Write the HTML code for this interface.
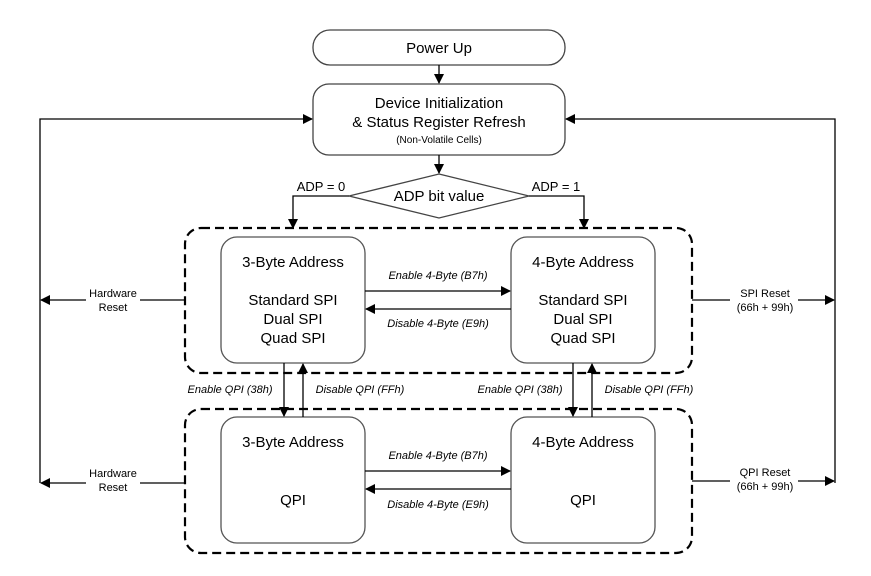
<!DOCTYPE html>
<html><head><meta charset="utf-8"><style>
html,body{margin:0;padding:0;background:#fff;}
svg{display:block;font-family:"Liberation Sans",sans-serif;}
.m{font-size:15px;fill:#000;text-anchor:middle}
.s{font-size:11px;fill:#000;text-anchor:middle;font-style:italic}
.r{font-size:11px;fill:#000;text-anchor:middle}
</style></head><body>
<svg width="871" height="576" viewBox="0 0 871 576" xmlns="http://www.w3.org/2000/svg">
<defs>
<marker id="a" markerWidth="10" markerHeight="10" refX="9" refY="5" orient="auto" markerUnits="userSpaceOnUse">
<path d="M0,0 L10,5 L0,10 z" fill="#000"/></marker>
</defs>
<g fill="none" stroke="#000" stroke-width="1.3">
<!-- Power up -->
<rect x="313" y="30" width="252" height="35" rx="17" stroke="#444"/>
<rect x="313" y="84" width="252" height="71" rx="16" stroke="#444"/>
<line x1="439" y1="65" x2="439" y2="83" marker-end="url(#a)"/>
<line x1="439" y1="155" x2="439" y2="173" marker-end="url(#a)"/>
<polygon points="439,174 529,196 439,218 349,196" stroke="#444"/>
<polyline points="349,196 293,196 293,228" marker-end="url(#a)"/>
<polyline points="529,196 584,196 584,228" marker-end="url(#a)"/>
<!-- dashed groups -->
<rect x="185" y="228" width="507" height="145" rx="16" stroke-width="2.2" stroke-dasharray="9,5"/>
<rect x="185" y="409" width="507" height="144" rx="16" stroke-width="2.2" stroke-dasharray="9,5"/>
<!-- inner boxes -->
<rect x="221" y="237" width="144" height="126" rx="16" stroke="#555"/>
<rect x="511" y="237" width="144" height="126" rx="16" stroke="#555"/>
<rect x="221" y="417" width="144" height="126" rx="16" stroke="#555"/>
<rect x="511" y="417" width="144" height="126" rx="16" stroke="#555"/>
<!-- horizontals -->
<line x1="365" y1="291" x2="510" y2="291" marker-end="url(#a)"/>
<line x1="511" y1="309" x2="366" y2="309" marker-end="url(#a)"/>
<line x1="365" y1="471" x2="510" y2="471" marker-end="url(#a)"/>
<line x1="511" y1="489" x2="366" y2="489" marker-end="url(#a)"/>
<!-- verticals -->
<line x1="284" y1="363" x2="284" y2="416" marker-end="url(#a)"/>
<line x1="303" y1="417" x2="303" y2="364" marker-end="url(#a)"/>
<line x1="573" y1="363" x2="573" y2="416" marker-end="url(#a)"/>
<line x1="592" y1="417" x2="592" y2="364" marker-end="url(#a)"/>
<!-- left loop -->
<polyline points="40,483 40,119 312,119" marker-end="url(#a)"/>
<line x1="140" y1="300" x2="41" y2="300" marker-end="url(#a)"/>
<line x1="185" y1="300" x2="140" y2="300"/>
<line x1="185" y1="483" x2="41" y2="483" marker-end="url(#a)"/>
<!-- right loop -->
<polyline points="835,483 835,119 566,119" marker-end="url(#a)"/>
<line x1="692" y1="300" x2="834" y2="300" marker-end="url(#a)"/>
<line x1="692" y1="481" x2="834" y2="481" marker-end="url(#a)"/>
</g>
<!-- label backgrounds -->
<rect x="86" y="286" width="54" height="28" fill="#fff"/>
<rect x="86" y="468" width="54" height="28" fill="#fff"/>
<rect x="730" y="286" width="68" height="28" fill="#fff"/>
<rect x="730" y="467" width="68" height="28" fill="#fff"/>
<text class="m" x="439" y="53">Power Up</text>
<text class="m" x="439" y="108">Device Initialization</text>
<text class="m" x="439" y="127">&amp; Status Register Refresh</text>
<text class="r" x="439" y="143" style="font-size:10px">(Non-Volatile Cells)</text>
<text class="m" x="439" y="201">ADP bit value</text>
<text class="m" x="321" y="191" style="font-size:13px">ADP = 0</text>
<text class="m" x="556" y="191" style="font-size:13px">ADP = 1</text>
<text class="m" x="293" y="267">3-Byte Address</text>
<text class="m" x="293" y="305">Standard SPI</text>
<text class="m" x="293" y="324">Dual SPI</text>
<text class="m" x="293" y="343">Quad SPI</text>
<text class="m" x="583" y="267">4-Byte Address</text>
<text class="m" x="583" y="305">Standard SPI</text>
<text class="m" x="583" y="324">Dual SPI</text>
<text class="m" x="583" y="343">Quad SPI</text>
<text class="m" x="293" y="447">3-Byte Address</text>
<text class="m" x="293" y="505">QPI</text>
<text class="m" x="583" y="447">4-Byte Address</text>
<text class="m" x="583" y="505">QPI</text>
<text class="s" x="438" y="279">Enable 4-Byte (B7h)</text>
<text class="s" x="438" y="327">Disable 4-Byte (E9h)</text>
<text class="s" x="438" y="459">Enable 4-Byte (B7h)</text>
<text class="s" x="438" y="508">Disable 4-Byte (E9h)</text>
<text class="s" x="230" y="393">Enable QPI (38h)</text>
<text class="s" x="360" y="393">Disable QPI (FFh)</text>
<text class="s" x="520" y="393">Enable QPI (38h)</text>
<text class="s" x="649" y="393">Disable QPI (FFh)</text>
<text class="r" x="113" y="297">Hardware</text>
<text class="r" x="113" y="311">Reset</text>
<text class="r" x="113" y="477">Hardware</text>
<text class="r" x="113" y="491">Reset</text>
<text class="r" x="765" y="297">SPI Reset</text>
<text class="r" x="765" y="311">(66h + 99h)</text>
<text class="r" x="765" y="476">QPI Reset</text>
<text class="r" x="765" y="490">(66h + 99h)</text>
</svg>
</body></html>
